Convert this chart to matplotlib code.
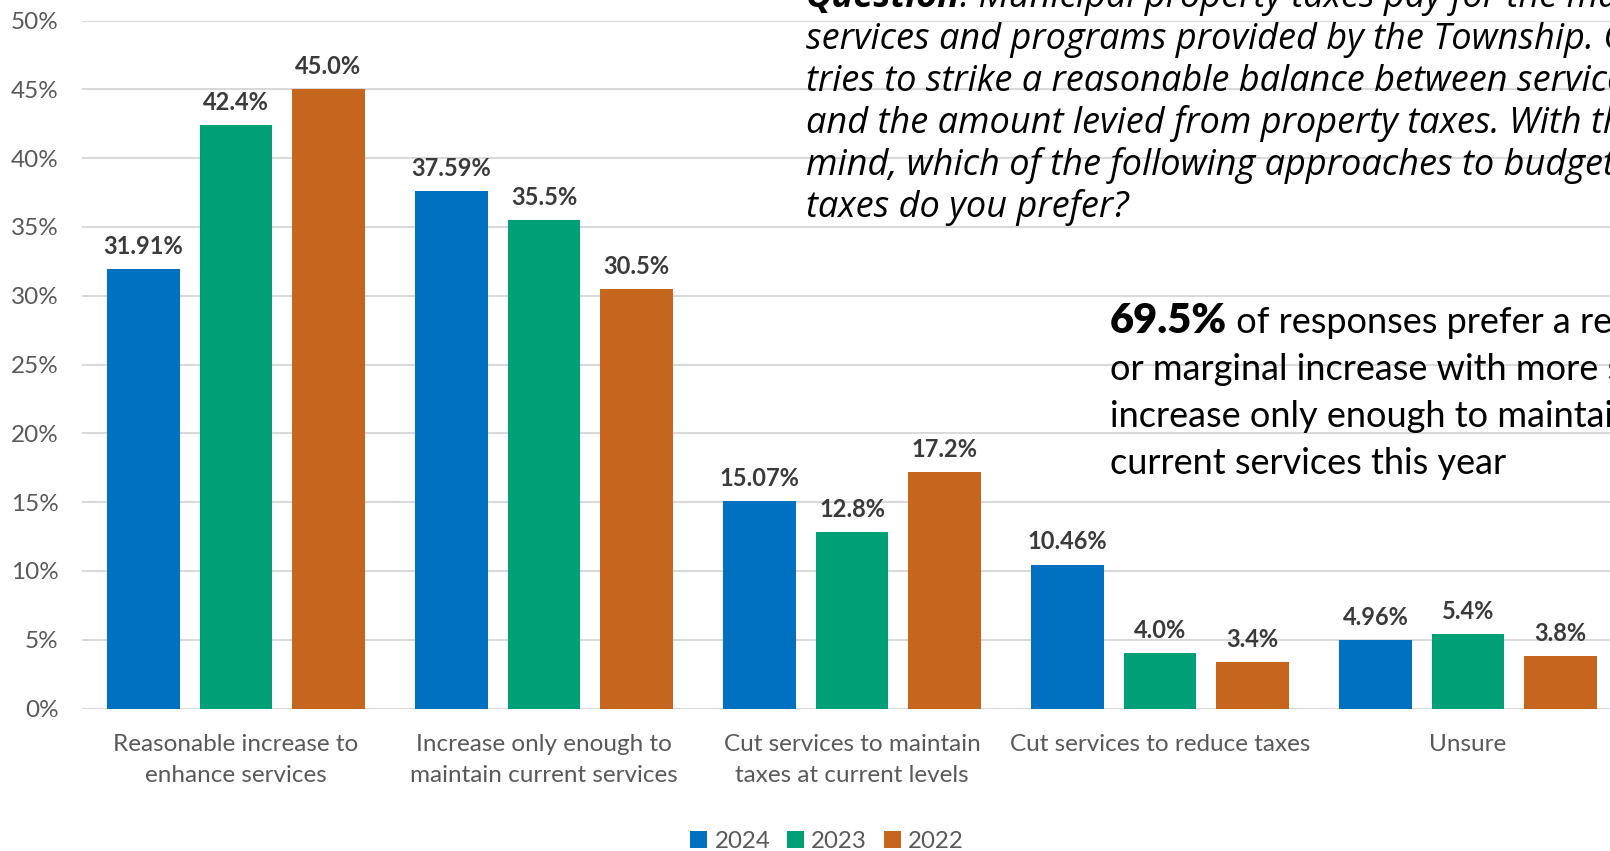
import numpy as np
import matplotlib.pyplot as plt
from matplotlib.ticker import FuncFormatter

categories = ["Reasonable increase to\nenhance services",
              "Increase only enough to\nmaintain current services",
              "Cut services to maintain\ntaxes at current levels",
              "Cut services to reduce taxes",
              "Unsure"]
years = ["2024", "2023", "2022"]
v2024 = [31.91, 37.59, 15.07, 10.46, 4.96]
v2023 = [42.4, 35.5, 12.8, 4.0, 5.4]
v2022 = [45.0, 30.5, 17.2, 3.4, 3.8]
lab2024 = ["31.91%", "37.59%", "15.07%", "10.46%", "4.96%"]
lab2023 = ["42.4%", "35.5%", "12.8%", "4.0%", "5.4%"]
lab2022 = ["45.0%", "30.5%", "17.2%", "3.4%", "3.8%"]

question = ["services and programs provided by the Township. Council",
            "tries to strike a reasonable balance between service levels",
            "and the amount levied from property taxes. With this in",
            "mind, which of the following approaches to budgeting and",
            "taxes do you prefer?"]
note = ["or marginal increase with more services, or an",
        "increase only enough to maintain",
        "current services this year"]

colors = ["#0070C0", "#00A077", "#C5651E"]
grey = "#595959"
W, H = 1610, 851

plt.rcParams['font.family'] = ['Lato', 'DejaVu Sans']
fig = plt.figure(figsize=(W / 100, H / 100), dpi=100)
ax = fig.add_axes([82 / W, 142.5 / H, 1540 / W, 688 / H])

x = np.arange(len(categories))
bw = 0.237
for k, (vals, labs) in enumerate([(v2024, lab2024), (v2023, lab2023), (v2022, lab2022)]):
    bars = ax.bar(x + (k - 1) * 0.3, vals, bw, color=colors[k], label=years[k], zorder=3)
    for b, t in zip(bars, labs):
        ax.annotate(t, (b.get_x() + b.get_width() / 2, b.get_height()),
                    xytext=(0, 8), textcoords="offset points", ha="center", va="bottom",
                    fontsize=17, fontweight="bold", color="#3A3A3A")

ax.set_xlim(-0.5, 4.5)
ax.set_ylim(0, 50)
ax.set_yticks(np.arange(0, 51, 5))
ax.yaxis.set_major_formatter(FuncFormatter(lambda v, p: f"{v:.0f}%"))
ax.set_xticks(x)
ax.set_xticklabels(categories, linespacing=1.6)
ax.tick_params(axis="both", length=0, labelsize=17.5, colors=grey)
ax.tick_params(axis="x", pad=18.5)
ax.tick_params(axis="y", pad=17)
ax.grid(axis="y", color="#D9D9D9", linewidth=1.5, zorder=0)
for s in ax.spines.values():
    s.set_visible(False)

fig.legend(loc="center", bbox_to_anchor=(827 / W, 10 / H), ncol=3, frameon=False,
           fontsize=17.3, handlelength=0.7, handleheight=0.7, handletextpad=0.3,
           columnspacing=0.7, labelcolor=grey)

# question text (top right, runs off the figure)
fig.canvas.draw()
r = fig.canvas.get_renderer()
qf = dict(fontsize=26, style="italic", va="baseline", family=["Open Sans", "DejaVu Sans"])
qx = 806 / W
t1 = fig.text(qx, 1 - 7 / H, "Question", fontweight="bold", **qf)
w1 = t1.get_window_extent(r).width
fig.text(qx + w1 / W, 1 - 7 / H, ": Municipal property taxes pay for the majority of the", **qf)
for i, line in enumerate(question):
    fig.text(qx, 1 - (7 + 42 * (i + 1)) / H, line, **qf)

nx = 1110 / W
t2 = fig.text(nx, 1 - 333 / H, "69.5%", fontsize=30, fontweight="heavy", va="baseline")
w2 = t2.get_window_extent(r).width
fig.text(nx + w2 / W, 1 - 333 / H, " of responses prefer a reasonable", fontsize=26,
         va="baseline")
for i, line in enumerate(note):
    fig.text(nx, 1 - (333 + 47 * (i + 1)) / H, line, fontsize=26, va="baseline")

fig.savefig("out.png", dpi=100)
